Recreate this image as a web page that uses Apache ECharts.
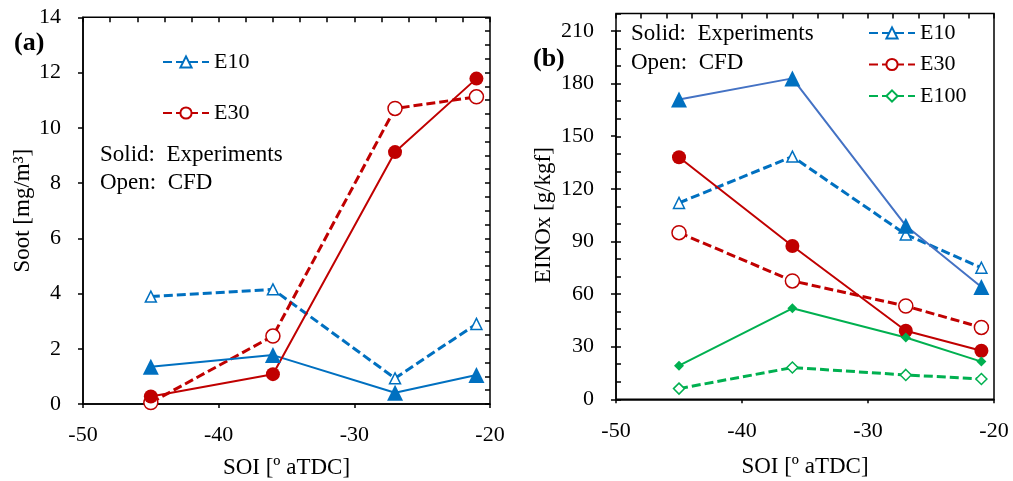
<!DOCTYPE html>
<html><head><meta charset="utf-8">
<script src="https://cdn.jsdelivr.net/npm/echarts@6/dist/echarts.min.js"></script>
<style>html,body{margin:0;padding:0;background:#fff}#c{width:1013px;height:481px}</style>
</head><body><div id="c"></div>
<script>
const soi = [-45, -36, -27, -21];
// Panel (a) Soot [mg/m3]
const sootE10Cfd = [3.89, 4.15, 0.93, 2.9];
const sootE10Exp = [1.35, 1.77, 0.41, 1.05];
const sootE30Cfd = [0.05, 2.46, 10.7, 11.12];
const sootE30Exp = [0.27, 1.08, 9.12, 11.78];
// Panel (b) EINOx [g/kgf]
const noxE10Exp = [171, 183, 99, 64];
const noxE10Cfd = [112, 138.4, 94, 75];
const noxE30Exp = [138, 87.4, 39.1, 27.7];
const noxE30Cfd = [95, 67.5, 53.2, 41];
const noxE100Exp = [19.2, 51.9, 35.2, 21.5];
const noxE100Cfd = [6.1, 18.1, 13.9, 11.6];

const FONT = '"Liberation Serif", "Times New Roman", serif';
const BLUE = '#0070C0', BLUE2 = '#4472C4', RED = '#C00000', GREEN = '#00B050';
const pts = ys => soi.map((x, i) => [x, ys[i]]);
const txt = {color: '#000', fontFamily: FONT, fontSize: 22};
const ttl = {color: '#000', fontFamily: FONT, fontSize: 23};

function mainX(grid, name, margin, gap) {
  return {type: 'value', gridIndex: grid, min: -50, max: -20, interval: 10,
    axisLine: {show: true, onZero: false, lineStyle: {color: '#000', width: 1.5}},
    axisTick: {show: true, inside: false, length: 4, lineStyle: {color: '#000', width: 1.5}},
    axisLabel: Object.assign({margin: margin}, txt), splitLine: {show: false},
    name: name, nameLocation: 'middle', nameGap: gap, nameTextStyle: ttl};
}
function minorX(grid) {
  return {type: 'value', gridIndex: grid, min: -50, max: -20, interval: 2,
    axisLine: {show: false, onZero: false}, axisLabel: {show: false}, splitLine: {show: false},
    axisTick: {show: true, inside: true, length: 5, lineStyle: {color: '#000', width: 1.5}}};
}
function mainY(grid, max, interval, name, gap) {
  return {type: 'value', gridIndex: grid, min: 0, max: max, interval: interval,
    axisLine: {show: true, onZero: false, lineStyle: {color: '#000', width: 1.5}},
    axisTick: {show: true, inside: false, length: 5, lineStyle: {color: '#000', width: 1.5}},
    axisLabel: Object.assign({margin: 22}, txt), splitLine: {show: false},
    name: name, nameLocation: 'middle', nameGap: gap, nameRotate: 90, nameTextStyle: ttl};
}
function minorY(grid, max, interval) {
  return {type: 'value', gridIndex: grid, min: 0, max: max, interval: interval,
    axisLine: {show: false, onZero: false}, axisLabel: {show: false}, splitLine: {show: false},
    axisTick: {show: true, inside: true, length: 5, lineStyle: {color: '#000', width: 1.5}}};
}
function ser(name, data, xi, yi, color, dashed, symbol, size, open, lineColor) {
  return {type: 'line', name: name, data: pts(data), xAxisIndex: xi, yAxisIndex: yi,
    symbol: symbol, symbolSize: size, clip: false, z: dashed ? 2 : 3,
    lineStyle: {color: lineColor || color, width: dashed ? 3 : 2, type: dashed ? [9, 4] : 'solid'},
    itemStyle: open ? {color: '#fff', borderColor: color, borderWidth: 1.5} : {color: color, borderColor: color, borderWidth: 0},
    emphasis: {disabled: true}, animation: false};
}

const chart = echarts.init(document.getElementById('c'));
chart.setOption({
  animation: false,
  grid: [
    {left: 83, right: 523, top: 17.3, bottom: 77, outerBoundsMode: 'none', containLabel: false, show: true, borderColor: '#000', borderWidth: 1.5, backgroundColor: 'transparent'},
    {left: 616, right: 19, top: 13.5, bottom: 81.7, outerBoundsMode: 'none', containLabel: false, show: true, borderColor: '#000', borderWidth: 1.5, backgroundColor: 'transparent'},
    {left: 616, right: 19, top: 31, bottom: 81.7, outerBoundsMode: 'none', containLabel: false, show: false}
  ],
  xAxis: [mainX(0, 'SOI [º aTDC]', 20, 52), minorX(0), mainX(1, 'SOI [º aTDC]', 21, 56), minorX(1),
    {type: 'value', gridIndex: 2, min: -50, max: -20, show: false}],
  yAxis: [mainY(0, 14, 2, 'Soot [mg/m³]', 49), minorY(0, 14, 0.5),
    minorY(1, 220, 10), mainY(2, 210, 30, 'EINOx [g/kgf]', 61)],
  legend: [
    {data: ['E10', 'E30'], orient: 'vertical', left: 162, top: 51, padding: 0, itemWidth: 46, itemHeight: 14,
      itemGap: 29, textStyle: Object.assign({lineHeight: 22}, txt), selectedMode: false},
    {data: ['E10 ', 'E30 ', 'E100 '], orient: 'vertical', left: 868, top: 22, padding: 0, itemWidth: 46, itemHeight: 14,
      itemGap: 9.5, textStyle: Object.assign({lineHeight: 22}, txt), selectedMode: false}
  ],
  graphic: [
    {type: 'text', left: 14, top: 30, style: {text: '(a)', font: 'bold 26px ' + FONT, fill: '#000'}},
    {type: 'text', left: 533, top: 46, style: {text: '(b)', font: 'bold 26px ' + FONT, fill: '#000'}},
    {type: 'text', left: 100, top: 143.5, style: {text: 'Solid:  Experiments', font: '23px ' + FONT, fill: '#000'}},
    {type: 'text', left: 100, top: 171.5, style: {text: 'Open:  CFD', font: '23px ' + FONT, fill: '#000'}},
    {type: 'text', left: 631, top: 22.5, style: {text: 'Solid:  Experiments', font: '23px ' + FONT, fill: '#000'}},
    {type: 'text', left: 631, top: 51.5, style: {text: 'Open:  CFD', font: '23px ' + FONT, fill: '#000'}}
  ],
  series: [
    ser('E10', sootE10Cfd, 0, 0, BLUE, true, 'triangle', 11, true),
    ser('E10 exp a', sootE10Exp, 0, 0, BLUE, false, 'triangle', 16, false),
    ser('E30', sootE30Cfd, 0, 0, RED, true, 'circle', 14, true),
    ser('E30 exp a', sootE30Exp, 0, 0, RED, false, 'circle', 14, false),
    ser('E10 ', noxE10Cfd, 2, 2, BLUE, true, 'triangle', 11, true),
    ser('E10 exp b', noxE10Exp, 2, 2, BLUE, false, 'triangle', 16, false, BLUE2),
    ser('E30 ', noxE30Cfd, 2, 2, RED, true, 'circle', 14, true),
    ser('E30 exp b', noxE30Exp, 2, 2, RED, false, 'circle', 14, false),
    ser('E100 ', noxE100Cfd, 2, 2, GREEN, true, 'diamond', 11, true),
    ser('E100 exp b', noxE100Exp, 2, 2, GREEN, false, 'diamond', 10, false)
  ]
});
</script></body></html>
